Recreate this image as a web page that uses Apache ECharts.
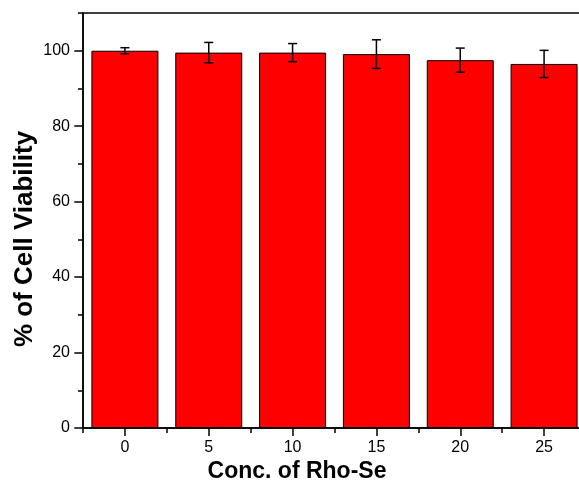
<!DOCTYPE html>
<html>
<head>
<meta charset="utf-8">
<script src="https://cdn.jsdelivr.net/npm/echarts@6/dist/echarts.min.js"></script>
<style>html,body{margin:0;padding:0;background:#fff}#c{width:579px;height:487px}</style>
</head>
<body>
<div id="c"></div>
<script>
const categories = ['0', '5', '10', '15', '20', '25'];
const viability = [100.0, 99.5, 99.5, 99.1, 97.5, 96.5];
const errors = [0.8, 2.7, 2.4, 3.8, 3.2, 3.6];
const yMajorTicks = [0, 20, 40, 60, 80, 100];
const xTitle = 'Conc. of Rho-Se';
const yTitle = '% of Cell Viability';

const FONT = '"Liberation Sans", Arial, sans-serif';
const chart = echarts.init(document.getElementById('c'), null, {renderer: 'canvas'});

const option = {
  animation: false,
  backgroundColor: '#fff',
  grid: [
    {left: 83, top: 13, bottom: 59, width: 503, outerBoundsMode: 'none', containLabel: false,
     show: true, borderColor: '#000', borderWidth: 1.5, backgroundColor: 'transparent'},
    {left: 83, top: 50.7, bottom: 59, width: 503, outerBoundsMode: 'none', containLabel: false, show: false}
  ],
  xAxis: [
    {type: 'category', gridIndex: 0, data: categories, position: 'bottom', boundaryGap: true,
     axisLine: {show: true, lineStyle: {color: '#000', width: 1.5}},
     axisTick: {show: true, alignWithLabel: true, length: 8, lineStyle: {color: '#000', width: 1.5}},
     axisLabel: {color: '#000', fontFamily: FONT, fontSize: 16, margin: 12},
     splitLine: {show: false}},
    {type: 'category', gridIndex: 0, data: categories, position: 'bottom', boundaryGap: true,
     axisLine: {show: false},
     axisTick: {show: true, length: 5, lineStyle: {color: '#000', width: 1.5}},
     axisLabel: {show: false}, splitLine: {show: false}},
    {type: 'category', gridIndex: 1, data: categories, show: false}
  ],
  yAxis: [
    {type: 'value', gridIndex: 0, min: 0, max: 110, interval: 10,
     axisLine: {show: true, lineStyle: {color: '#000', width: 1.5}},
     axisTick: {show: true, length: 5, lineStyle: {color: '#000', width: 1.5}},
     axisLabel: {show: false}, splitLine: {show: false}},
    {type: 'value', gridIndex: 1, min: yMajorTicks[0], max: yMajorTicks[yMajorTicks.length - 1], interval: 20,
     axisLine: {show: false},
     axisTick: {show: true, length: 8.7, lineStyle: {color: '#000', width: 1.5}},
     axisLabel: {color: '#000', fontFamily: FONT, fontSize: 16, margin: 13},
     splitLine: {show: false}}
  ],
  series: [
    {type: 'bar', xAxisIndex: 0, yAxisIndex: 0, data: viability, barWidth: 67,
     itemStyle: {color: '#ff0000', borderColor: '#000', borderWidth: 1}, z: 2},
    {type: 'custom', xAxisIndex: 0, yAxisIndex: 0, z: 5,
     data: viability.map((v, i) => [i, v - errors[i], v + errors[i]]),
     renderItem: function (params, api) {
       const i = api.value(0);
       const lo = api.coord([i, api.value(1)]);
       const hi = api.coord([i, api.value(2)]);
       const hw = 4.5;
       const st = {stroke: '#000', lineWidth: 1.5};
       return {type: 'group', children: [
         {type: 'line', shape: {x1: lo[0], y1: lo[1], x2: hi[0], y2: hi[1]}, style: st},
         {type: 'line', shape: {x1: lo[0] - hw, y1: lo[1], x2: lo[0] + hw, y2: lo[1]}, style: st},
         {type: 'line', shape: {x1: hi[0] - hw, y1: hi[1], x2: hi[0] + hw, y2: hi[1]}, style: st}
       ]};
     }}
  ],
  graphic: [
    {type: 'text', x: 297, y: 472, style: {text: xTitle, fill: '#000', font: 'bold 23px ' + FONT, align: 'center', verticalAlign: 'middle'}},
    {type: 'text', x: 25, y: 239, rotation: Math.PI / 2, style: {text: yTitle, fill: '#000', font: 'bold 26px ' + FONT, align: 'center', verticalAlign: 'middle'}}
  ]
};
chart.setOption(option);
</script>
</body>
</html>
